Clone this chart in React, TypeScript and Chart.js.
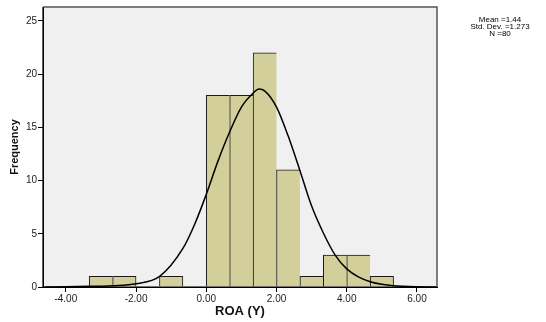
import { useEffect, useRef } from "react";
import { Chart, registerables } from "chart.js";

Chart.register(...registerables);

// Histogram bins (edges) and frequencies
const binEdges = [-3.333, -2.667, -2.0, -1.333, -0.667, 0.0, 0.667, 1.333, 2.0, 2.667, 3.333, 4.0, 4.667, 5.333];
const counts = [1, 1, 0, 1, 0, 18, 18, 22, 11, 1, 3, 3, 1];

// Normal curve
const curveX = [-4.6, -4.0, -3.33, -2.67, -2.0, -1.33, -0.67, -0.33, 0.0, 0.33, 0.67, 1.0, 1.33, 1.5, 1.67, 2.0, 2.33, 2.67, 3.0, 3.33, 3.67, 4.0, 4.33, 4.67, 5.0, 5.33, 6.0, 6.55];
const curveY = [0.0, 0.02, 0.06, 0.12, 0.3, 1.0, 3.6, 5.9, 8.7, 11.8, 14.6, 16.9, 18.2, 18.6, 18.4, 16.9, 14.2, 10.9, 7.6, 5.1, 3.0, 1.7, 0.95, 0.5, 0.25, 0.12, 0.02, 0.0];

const xTicks = [-4, -2, 0, 2, 4, 6];
const yTicks = [0, 5, 10, 15, 20, 25];
const statsLines = ["Mean =1.44", "Std. Dev. =1.273", "N =80"];

const FONT = "'Liberation Sans', Arial, Helvetica, sans-serif";

export default function App() {
  const ref = useRef<HTMLCanvasElement | null>(null);

  useEffect(() => {
    if (!ref.current) return;
    const barData = counts.map((c, i) => ({ x: (binEdges[i] + binEdges[i + 1]) / 2, y: c }));
    const lineData = curveX.map((x, i) => ({ x, y: curveY[i] }));

    const framePlugin = {
      id: "frame",
      beforeDraw(chart: any) {
        const { ctx, chartArea } = chart;
        const { left, top, right, bottom } = chartArea;
        ctx.save();
        ctx.fillStyle = "#f0f0f0";
        ctx.fillRect(left, top, right - left, bottom - top);
        ctx.restore();
      },
      afterDraw(chart: any) {
        const { ctx, chartArea } = chart;
        const { left, top, right, bottom } = chartArea;
        ctx.save();
        ctx.strokeStyle = "#555";
        ctx.lineWidth = 1.5;
        ctx.beginPath();
        ctx.moveTo(left, top);
        ctx.lineTo(right, top);
        ctx.lineTo(right, bottom);
        ctx.stroke();
        ctx.strokeStyle = "#000";
        ctx.lineWidth = 1.2;
        ctx.beginPath();
        ctx.moveTo(left, top);
        ctx.lineTo(left, bottom);
        ctx.lineTo(right, bottom);
        ctx.stroke();
        ctx.fillStyle = "#000";
        ctx.font = "8px " + FONT;
        ctx.textAlign = "center";
        ctx.textBaseline = "middle";
        statsLines.forEach((t, i) => ctx.fillText(t, 500, 20 + i * 7));
        ctx.restore();
      },
    };

    const chart = new Chart(ref.current, {
      type: "bar",
      data: {
        datasets: [
          {
            type: "line",
            data: lineData,
            borderColor: "#000",
            borderWidth: 1.5,
            pointRadius: 0,
            fill: false,
            cubicInterpolationMode: "monotone",
            order: 0,
          } as any,
          {
            type: "bar",
            data: barData,
            backgroundColor: "#d3cf9b",
            borderColor: "#1a1a1a",
            borderSkipped: false,
            borderWidth: (ctx: any) => {
              const i = ctx.dataIndex;
              if (!counts[i]) return 0;
              const next = counts[i + 1];
              return { top: 1, left: 1, bottom: 0, right: next ? 0 : 1 };
            },
            barPercentage: 1,
            categoryPercentage: 1,
            order: 1,
          } as any,
        ],
      },
      options: {
        responsive: false,
        animation: false,
        devicePixelRatio: 1,
        layout: { padding: { top: 4, right: 109, left: 0, bottom: 0 } },
        plugins: { legend: { display: false }, tooltip: { enabled: false } },
        scales: {
          x: {
            type: "linear",
            min: -4.65,
            max: 6.57,
            offset: false,
            afterBuildTicks: (s: any) => {
              s.ticks = xTicks.map((v) => ({ value: v }));
            },
            afterFit: (s: any) => {
              s.height = 35;
            },
            grid: { offset: false, drawOnChartArea: false, drawTicks: true, tickLength: 5, color: "#000" },
            border: { display: true, color: "#000", width: 1 },
            ticks: {
              color: "#222",
              font: { family: FONT, size: 10 },
              padding: 1,
              maxRotation: 0,
              autoSkip: false,
              callback: (v: any) => Number(v).toFixed(2),
            },
            title: {
              display: true,
              text: "ROA (Y)",
              color: "#111",
              font: { family: FONT, size: 13, weight: "bold" },
              padding: { top: 0, bottom: 3 },
            },
          },
          y: {
            type: "linear",
            min: 0,
            max: 26.3,
            afterBuildTicks: (s: any) => {
              s.ticks = yTicks.map((v) => ({ value: v }));
            },
            afterFit: (s: any) => {
              s.width = 43;
            },
            grid: { drawOnChartArea: false, drawTicks: true, tickLength: 5, color: "#000" },
            border: { display: true, color: "#000", width: 1 },
            ticks: {
              color: "#222",
              font: { family: FONT, size: 10 },
              padding: 1,
              autoSkip: false,
            },
            title: {
              display: true,
              text: "Frequency",
              color: "#111",
              font: { family: FONT, size: 11, weight: "bold" },
              padding: { top: 8, bottom: 0 },
            },
          },
        },
      },
      plugins: [framePlugin],
    } as any);
    return () => chart.destroy();
  }, []);

  return (
    <div style={{ position: "absolute", left: 0, top: 0, width: 546, height: 322, background: "#fff" }}>
      <canvas ref={ref} width={546} height={322} style={{ display: "block", width: 546, height: 322 }} />
    </div>
  );
}
